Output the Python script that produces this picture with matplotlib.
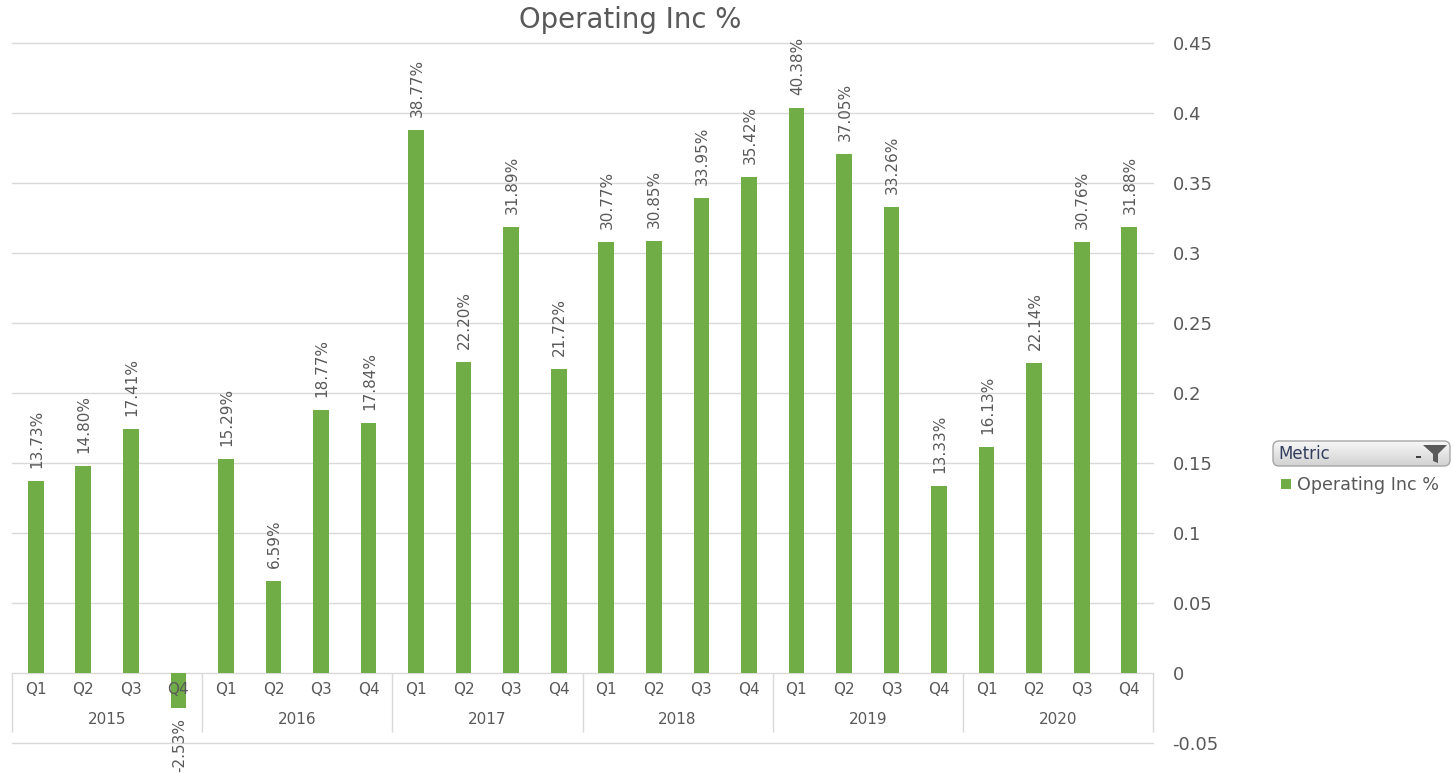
import numpy as np
import matplotlib
matplotlib.use("Agg")
import matplotlib.pyplot as plt
from matplotlib.patches import FancyBboxPatch, Rectangle, Polygon
from matplotlib.colors import LinearSegmentedColormap

plt.rcParams['font.family'] = ['DejaVu Sans']

# data
years = ["2015", "2016", "2017", "2018", "2019", "2020"]
quarters = ["Q1", "Q2", "Q3", "Q4"]
op_inc = [0.1373, 0.1480, 0.1741, -0.0253,
          0.1529, 0.0659, 0.1877, 0.1784,
          0.3877, 0.2220, 0.3189, 0.2172,
          0.3077, 0.3085, 0.3395, 0.3542,
          0.4038, 0.3705, 0.3326, 0.1333,
          0.1613, 0.2214, 0.3076, 0.3188]
y_ticks = [-0.05, 0, 0.05, 0.1, 0.15, 0.2, 0.25, 0.3, 0.35, 0.4, 0.45]
y_tick_labels = ["-0.05", "0", "0.05", "0.1", "0.15", "0.2", "0.25", "0.3", "0.35", "0.4", "0.45"]

green = "#70AD47"
txt = "#595959"
grid = "#D9D9D9"

W, H = 1454, 773
fig = plt.figure(figsize=(W / 100, H / 100), dpi=100)
ax = fig.add_axes([12 / W, 30 / H, 1141 / W, 700 / H])

x = np.arange(len(op_inc))
ax.bar(x, op_inc, width=0.33, color=green, zorder=2)
ax.set_xlim(-0.5, len(op_inc) - 0.5)
ax.set_ylim(-0.05, 0.45)

for t in y_ticks:
    ax.axhline(t, color=grid, linewidth=1, zorder=0, clip_on=False)
ax.set_yticks(y_ticks)
ax.set_yticklabels(y_tick_labels)
ax.yaxis.tick_right()
ax.tick_params(axis="y", length=0, pad=14, labelsize=13, labelcolor=txt)
ax.set_xticks([])
for s in ax.spines.values():
    s.set_visible(False)

# data labels
for i, v in enumerate(op_inc):
    lab = f"{v * 100:.2f}%"
    if v >= 0:
        ax.annotate(lab, (i, v), xytext=(1, 13), textcoords="offset pixels",
                    rotation=90, ha="center", va="bottom", fontsize=11, color=txt)
    else:
        ax.annotate(lab, (i, v), xytext=(1, -10), textcoords="offset pixels",
                    rotation=90, ha="center", va="top", fontsize=11, color=txt)

# multi level category axis
for i in range(len(op_inc)):
    ax.text(i, -0.012, quarters[i % 4], ha="center", va="center",
            fontsize=11, color=txt, zorder=3)
for k, yr in enumerate(years):
    ax.text(4 * k + 1.5, -0.0330, yr, ha="center", va="center",
            fontsize=11, color=txt, zorder=3)
ax.vlines([4 * k - 0.5 for k in range(len(years) + 1)], -0.042, 0,
          color=grid, linewidth=1, zorder=1, clip_on=False)

# title
fig.text(630 / W, 1 - 20 / H, "Operating Inc %", ha="center", va="center",
         fontsize=19.8, color=txt)

# legend / field button drawn in pixel space
ov = fig.add_axes([0, 0, 1, 1])
ov.set_xlim(0, W)
ov.set_ylim(H, 0)
ov.axis("off")

box = FancyBboxPatch((1273, 441), 177, 25, boxstyle="round,pad=0,rounding_size=6",
                     facecolor="none", edgecolor="#A6A6A6", linewidth=1, zorder=3)
ov.add_patch(box)
cmap = LinearSegmentedColormap.from_list("btn", ["#F7F7F7", "#D2D2D2"])
im = ov.imshow(np.linspace(0, 1, 50).reshape(-1, 1), extent=(1273, 1450, 466, 441),
               cmap=cmap, aspect="auto", zorder=2)
im.set_clip_path(box)
ov.set_xlim(0, W)
ov.set_ylim(H, 0)
ov.text(1278, 454, "Metric", ha="left", va="center", fontsize=12, color="#333F5F", zorder=4)
ov.add_patch(Polygon([[1423, 445], [1447, 445], [1438, 454], [1438, 463],
                      [1433, 461], [1433, 454]], closed=True,
                     facecolor="#595959", edgecolor="none", zorder=4))
ov.add_patch(Rectangle((1416, 456), 5, 2, facecolor="#404040", edgecolor="none", zorder=4))
ov.add_patch(Rectangle((1281, 479), 10, 10, facecolor=green, edgecolor="none", zorder=4))
ov.text(1297, 485, "Operating Inc %", ha="left", va="center", fontsize=12.6, color=txt, zorder=4)

fig.savefig("out.png", dpi=100, facecolor="white")
